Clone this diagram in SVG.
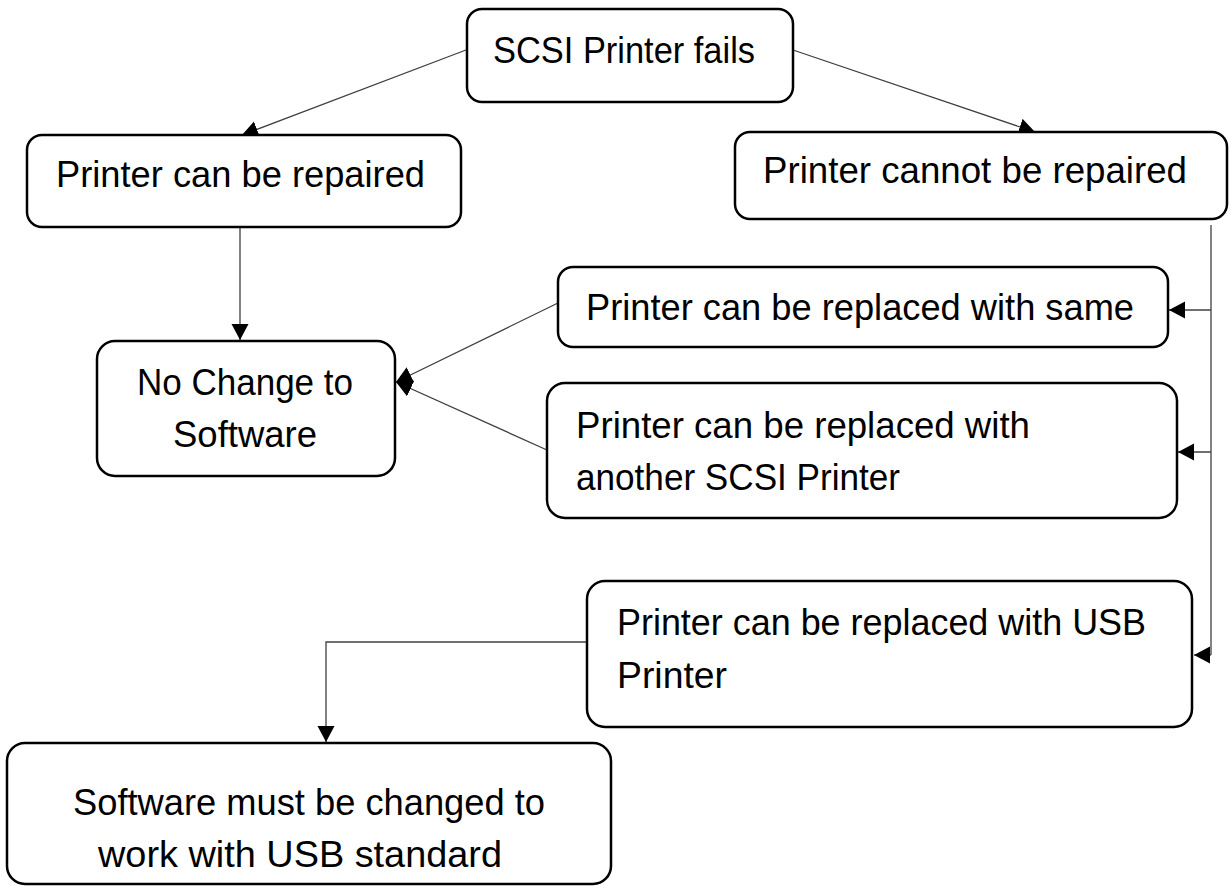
<svg xmlns="http://www.w3.org/2000/svg" width="1231" height="886" viewBox="0 0 1231 886">
<style>
.box{fill:#fff;stroke:#000;stroke-width:2.5}
.lbl{font-family:"Liberation Sans",Arial,sans-serif;font-size:36px;fill:#000}
.con{fill:none;stroke:#404040;stroke-width:1.3}
</style>
<defs>
<marker id="arr" markerUnits="userSpaceOnUse" markerWidth="18" markerHeight="18" refX="16" refY="8.5" orient="auto">
<path d="M0,0 L16,8.5 L0,17 z" fill="#000"/>
</marker>
</defs>
<rect width="1231" height="886" fill="#fff"/>
<g id="connectors">
<line class="con" x1="466" y1="50" x2="242" y2="135" marker-end="url(#arr)"/>
<line class="con" x1="793" y1="50" x2="1035" y2="132" marker-end="url(#arr)"/>
<line class="con" x1="240" y1="227" x2="240" y2="340" marker-end="url(#arr)"/>
<line class="con" x1="558" y1="303" x2="396" y2="382" marker-end="url(#arr)"/>
<line class="con" x1="547" y1="450" x2="396" y2="382" marker-end="url(#arr)"/>
<line class="con" x1="1211" y1="225" x2="1211" y2="655"/>
<line class="con" x1="1211" y1="310" x2="1169" y2="310" marker-end="url(#arr)"/>
<line class="con" x1="1211" y1="452" x2="1178" y2="452" marker-end="url(#arr)"/>
<line class="con" x1="1211" y1="655" x2="1194" y2="655" marker-end="url(#arr)"/>
<polyline class="con" points="587,642 326,642 326,742" marker-end="url(#arr)"/>
</g>
<g id="n-fails">
<rect class="box" x="467" y="9" width="326" height="93" rx="15"/>
<text class="lbl" x="493" y="63" textLength="262" lengthAdjust="spacingAndGlyphs">SCSI Printer fails</text>
</g>
<g id="n-repaired">
<rect class="box" x="27" y="135" width="434" height="92" rx="15"/>
<text class="lbl" x="56" y="187" textLength="369" lengthAdjust="spacingAndGlyphs">Printer can be repaired</text>
</g>
<g id="n-cannot">
<rect class="box" x="735" y="132" width="492" height="87" rx="15"/>
<text class="lbl" x="763" y="183" textLength="424" lengthAdjust="spacingAndGlyphs">Printer cannot be repaired</text>
</g>
<g id="n-nochange">
<rect class="box" x="97" y="341" width="298" height="135" rx="18"/>
<text class="lbl" x="137" y="395" textLength="216" lengthAdjust="spacingAndGlyphs">No Change to</text>
<text class="lbl" x="173" y="447" textLength="144" lengthAdjust="spacingAndGlyphs">Software</text>
</g>
<g id="n-same">
<rect class="box" x="558" y="267" width="610" height="80" rx="15"/>
<text class="lbl" x="586" y="320" textLength="548" lengthAdjust="spacingAndGlyphs">Printer can be replaced with same</text>
</g>
<g id="n-scsi">
<rect class="box" x="547" y="383" width="630" height="135" rx="18"/>
<text class="lbl" x="576" y="438" textLength="454" lengthAdjust="spacingAndGlyphs">Printer can be replaced with</text>
<text class="lbl" x="576" y="490" textLength="324" lengthAdjust="spacingAndGlyphs">another SCSI Printer</text>
</g>
<g id="n-usb">
<rect class="box" x="587" y="581" width="605" height="146" rx="18"/>
<text class="lbl" x="617" y="635" textLength="529" lengthAdjust="spacingAndGlyphs">Printer can be replaced with USB</text>
<text class="lbl" x="617" y="688" textLength="110" lengthAdjust="spacingAndGlyphs">Printer</text>
</g>
<g id="n-software">
<rect class="box" x="7" y="743" width="604" height="141" rx="18"/>
<text class="lbl" x="73" y="815" textLength="472" lengthAdjust="spacingAndGlyphs">Software must be changed to</text>
<text class="lbl" x="98" y="867" textLength="404" lengthAdjust="spacingAndGlyphs">work with USB standard</text>
</g>
</svg>
